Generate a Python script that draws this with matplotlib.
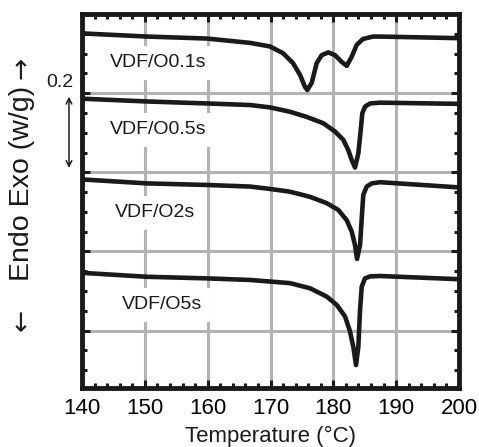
import matplotlib
matplotlib.use('Agg')
from matplotlib import pyplot as plt
from matplotlib.ticker import MultipleLocator

plt.rcParams['font.family'] = ['Liberation Sans', 'DejaVu Sans']

# temperature (C) and heat flow (w/g, curves offset)
temp_01 = [140.0, 150.35, 159.9, 166.74, 169.92, 171.99, 173.58, 174.70, 175.49, 175.86,
           176.56, 177.35, 178.15, 179.20, 180.27, 181.33, 182.13, 182.92, 183.72, 184.72,
           186.32, 187.43, 199.85]
flow_01 = [0.951, 0.943, 0.938, 0.927, 0.918, 0.901, 0.876, 0.846, 0.816, 0.808,
           0.826, 0.876, 0.896, 0.903, 0.896, 0.879, 0.869, 0.892, 0.922, 0.937,
           0.943, 0.943, 0.939]

temp_05 = [140.0, 150.35, 159.9, 166.74, 169.92, 173.10, 175.76, 178.40, 180.27, 181.59,
           182.38, 182.93, 183.45, 183.98, 184.36, 184.61, 185.04, 185.84, 187.43, 199.85]
flow_05 = [0.786, 0.779, 0.774, 0.770, 0.764, 0.753, 0.740, 0.724, 0.703, 0.682,
           0.656, 0.631, 0.612, 0.648, 0.707, 0.749, 0.766, 0.774, 0.776, 0.773]

temp_2 = [140.0, 150.35, 159.9, 166.74, 169.92, 173.10, 176.29, 178.95, 180.79, 182.13,
          182.93, 183.45, 183.77, 184.25, 184.52, 184.77, 185.31, 186.11, 187.43, 199.85]
flow_2 = [0.582, 0.572, 0.568, 0.564, 0.558, 0.551, 0.538, 0.522, 0.505, 0.479,
          0.450, 0.416, 0.381, 0.416, 0.484, 0.543, 0.564, 0.572, 0.575, 0.562]

temp_5 = [140.0, 150.35, 159.9, 166.74, 169.92, 173.10, 176.29, 178.95, 180.54, 181.86,
          182.65, 183.18, 183.61, 183.98, 184.25, 184.52, 185.04, 185.84, 187.43, 199.85]
flow_5 = [0.346, 0.336, 0.332, 0.328, 0.324, 0.320, 0.307, 0.286, 0.265, 0.236,
          0.198, 0.159, 0.113, 0.159, 0.252, 0.311, 0.332, 0.337, 0.338, 0.330]

labels = ['VDF/O0.1s', 'VDF/O0.5s', 'VDF/O2s', 'VDF/O5s']
label_x = [144.46, 144.46, 145.25, 146.32]
label_y = [0.877, 0.707, 0.498, 0.265]
x_ticks = [140, 150, 160, 170, 180, 190, 200]

fig = plt.figure(figsize=(4.79, 4.47), dpi=100)
ax = fig.add_axes([82 / 479, 1 - 388 / 447, 377 / 479, 374 / 447])

for t, f in [(temp_01, flow_01), (temp_05, flow_05), (temp_2, flow_2), (temp_5, flow_5)]:
    ax.plot(t, f, color='#1a1a1a', lw=3.3, solid_joinstyle='round', solid_capstyle='butt', zorder=3)

for lab, lx, ly in zip(labels, label_x, label_y):
    ax.text(lx, ly, lab, fontsize=14, va='center', ha='left', color='#1a1a1a', zorder=2,
            bbox=dict(facecolor='white', edgecolor='none', pad=6))

ax.set_xlim(140, 200)
ax.set_ylim(0.055, 1.0)
ax.set_xticks(x_ticks)
ax.xaxis.set_minor_locator(MultipleLocator(2))
ax.yaxis.set_major_locator(MultipleLocator(0.2))
ax.yaxis.set_minor_locator(MultipleLocator(0.05))
ax.set_yticklabels([])
ax.grid(True, which='major', color='#b3b3b3', lw=2.2, zorder=1)
ax.set_axisbelow(True)
for sp in ax.spines.values():
    sp.set_linewidth(3.5)
    sp.set_color('#1a1a1a')
    sp.set_zorder(4)
ax.tick_params(which='both', direction='in', top=True, right=True, color='#1a1a1a')
ax.tick_params(which='major', length=6, width=2.2, labelsize=16, pad=7)
ax.tick_params(which='minor', length=3.5, width=2.2)
ax.set_xlabel('Temperature (°C)', fontsize=16, labelpad=5, color='#1a1a1a')

# y label: text plus arrows drawn separately
fig.text(22.5 / 479, 1 - 183 / 447, 'Endo Exo (w/g)', rotation=90, fontsize=20.5,
         ha='center', va='center', color='#1a1a1a')
fig.text(22.5 / 479, 1 - 68 / 447, '→', rotation=90, fontsize=19, family='DejaVu Sans',
         ha='center', va='center', color='#1a1a1a')
fig.text(22.5 / 479, 1 - 320 / 447, '←', rotation=90, fontsize=19, family='DejaVu Sans',
         ha='center', va='center', color='#1a1a1a')

ax.text(136.42, 0.826, '0.2', fontsize=14, ha='center', va='center', color='#1a1a1a', clip_on=False)
ax.annotate('', xy=(137.93, 0.791), xytext=(137.93, 0.611), annotation_clip=False,
            arrowprops=dict(arrowstyle='<->', lw=1.1, color='#1a1a1a', shrinkA=0, shrinkB=0))

plt.savefig('out.png', dpi=100)
